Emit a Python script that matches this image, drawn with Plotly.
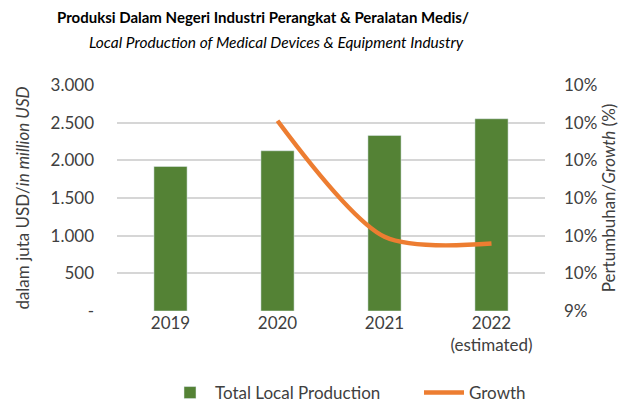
import plotly.graph_objects as go

categories = ["2019", "2020", "2021", "2022<br>(estimated)"]
production = [1919, 2127, 2331, 2552]
growth_cats = ["2020", "2021", "2022<br>(estimated)"]
growth = [0.09905, 0.09597, 0.09579]

left_ticks = [0, 500, 1000, 1500, 2000, 2500, 3000]
left_labels = ["-", "500", "1.000", "1.500", "2.000", "2.500", "3.000"]
right_ticks = [0.094, 0.095, 0.096, 0.097, 0.098, 0.099, 0.100]
right_labels = ["9%", "10%", "10%", "10%", "10%", "10%", "10%"]

FONT = "Lato"
fig = go.Figure()
fig.add_trace(go.Bar(x=categories, y=production, name="Total Local Production",
                     marker_color="#548235", width=0.31, yaxis="y", legend="legend"))
fig.add_trace(go.Scatter(x=growth_cats, y=growth, name="Growth", mode="lines",
                         line=dict(color="#ED7D31", width=4.5, shape="spline", smoothing=0.8),
                         yaxis="y2", legend="legend2"))

leg_common = dict(orientation="h", xanchor="left", y=-(393-311)/226, yanchor="middle",
                  font=dict(size=17, color="#404040"), itemwidth=40,
                  bgcolor="rgba(0,0,0,0)")
fig.update_layout(
    width=627, height=403,
    margin=dict(l=117, r=82, t=85, b=92, autoexpand=False),
    paper_bgcolor="white", plot_bgcolor="white",
    font=dict(family=FONT, color="#404040", size=16),
    showlegend=True,
    legend=dict(x=(165-117)/428, **leg_common),
    legend2=dict(x=(419-117)/428, **leg_common),
    xaxis=dict(type="category", showgrid=False, showline=False, ticks="",
               tickfont=dict(size=17, color="#404040")),
    yaxis=dict(range=[0, 3000], tickvals=left_ticks, ticktext=left_labels,
               showgrid=True, gridcolor="#D6D6D6", gridwidth=1.5, zeroline=False,
               ticklabelstandoff=22, tickfont=dict(size=17, color="#404040"),
               title=dict(text="dalam juta USD/<i>in million USD</i>", standoff=16,
                          font=dict(size=17, color="#404040"))),
    yaxis2=dict(range=[0.094, 0.100], tickvals=right_ticks, ticktext=right_labels,
                overlaying="y", side="right", showgrid=False, zeroline=False,
                ticklabelstandoff=18, tickfont=dict(size=17, color="#404040"),
                title=dict(text="Pertumbuhan/<i>Growth</i> (%)", standoff=6,
                           font=dict(size=17, color="#404040"))),
)
fig.add_annotation(text="<b>Produksi Dalam Negeri Industri Perangkat & Peralatan Medis/</b>",
                   xref="paper", yref="paper", x=(263-117)/428, y=1, yshift=85-17,
                   xanchor="center", yanchor="middle", showarrow=False,
                   font=dict(size=15, color="#000000", family=FONT))
fig.add_annotation(text="<i>Local Production of Medical Devices & Equipment Industry</i>",
                   xref="paper", yref="paper", x=(276-117)/428, y=1, yshift=85-42,
                   xanchor="center", yanchor="middle", showarrow=False,
                   font=dict(size=15.5, color="#000000", family=FONT))
fig.write_html("out.html", config={"displayModeBar": False},
               post_script="document.body.style.margin='0';")
